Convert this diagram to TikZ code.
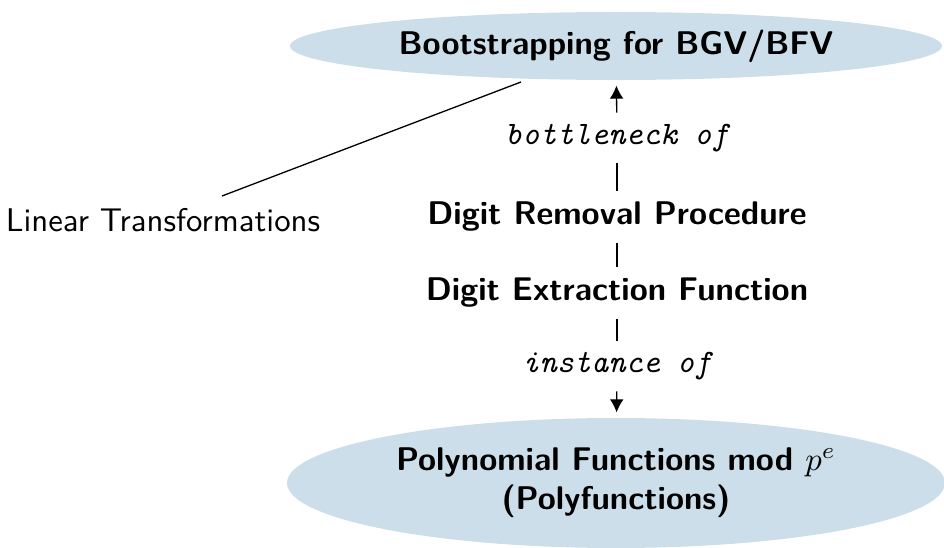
\documentclass[tikz,border=0pt]{standalone}
\usepackage{fontspec}
\usetikzlibrary{shapes.geometric,arrows.meta}
\definecolor{nodeblue}{RGB}{204,222,233}
\begin{document}
\begin{tikzpicture}[x=0.305pt,y=-0.305pt,
  topic/.style={ellipse,fill=nodeblue,font=\sffamily\bfseries,align=center,inner sep=0pt},
  plain/.style={font=\sffamily\bfseries},
  rel/.style={font=\ttfamily\itshape},
  link/.style={line width=0.4pt},
  tip/.style={-{Latex[length=4pt,width=4.2pt]},shorten >=1.5pt}]
\useasboundingbox (0,0) rectangle (944,548);

\node[topic,minimum width=652*0.305pt,minimum height=68*0.305pt] (boot) at (616,46) {Bootstrapping for BGV/BFV};
\node[plain] (removal) at (617,217) {Digit Removal Procedure};
\node[plain] (extract) at (617,293) {Digit Extraction Function};
\node[topic,minimum width=658*0.305pt,minimum height=130*0.305pt] (poly) at (616,483)
  {Polynomial Functions mod $p^e$\\(Polyfunctions)};
\node[font=\sffamily] (linear) at (163,220) {Linear Transformations};

\node[rel] (bneck) at (617,138) {bottleneck of};
\node[rel] (inst) at (617,366) {instance of};

\draw[link] (removal) -- (bneck);
\draw[link,tip] (bneck) -- (boot);
\draw[link] (removal) -- (extract);
\draw[link] (extract) -- (inst);
\draw[link,tip] (inst) -- (poly);

% line from the label up to the rim of the top ellipse
\coordinate (linearend) at (222,196);
\coordinate (bootrim) at (521,82);
\draw[link] (linearend) -- (bootrim);
\end{tikzpicture}
\end{document}
